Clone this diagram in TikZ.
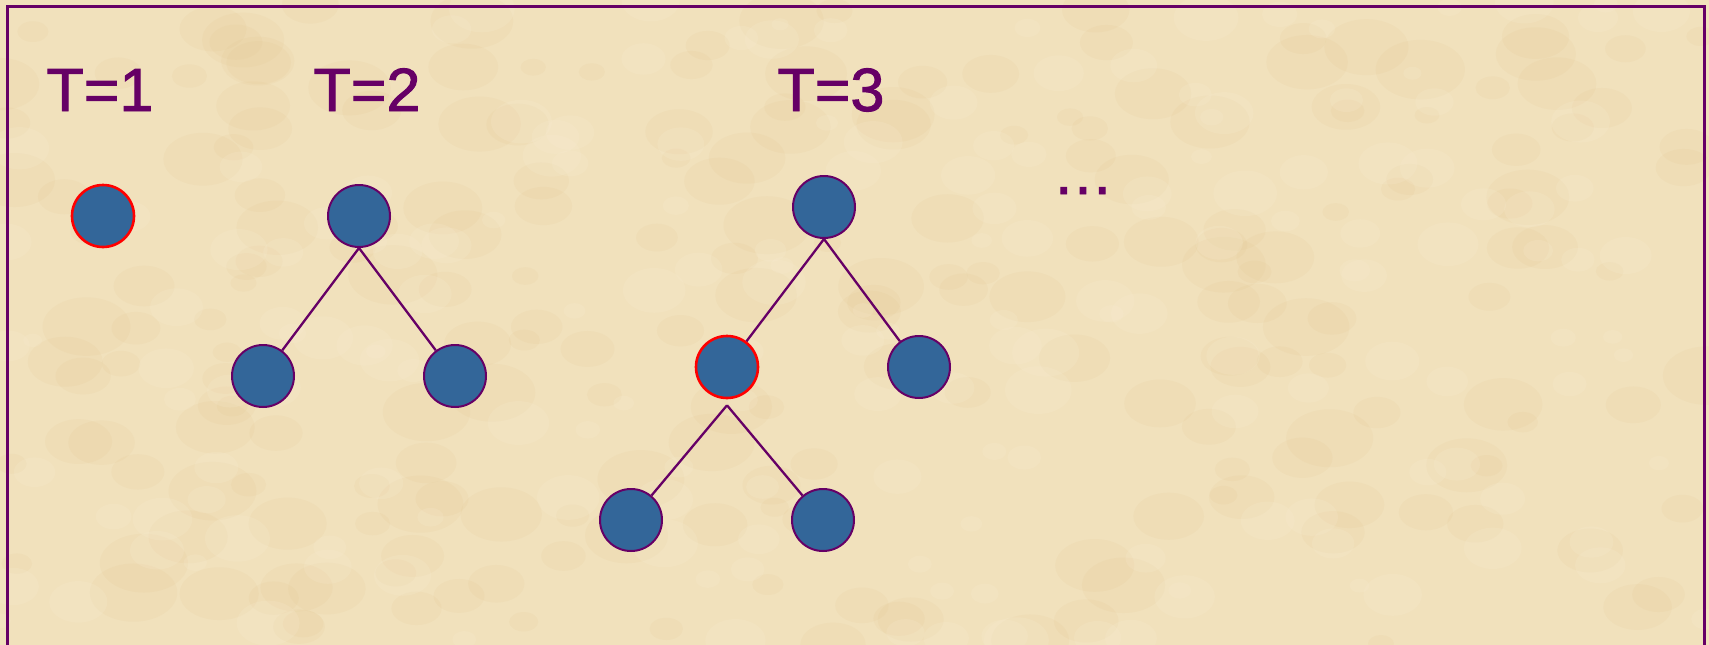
\documentclass[tikz,border=0pt]{standalone}
\usepackage{fontspec}
\setmainfont{Liberation Sans}
\newfontfamily\labelfont[FakeBold=1.6]{Liberation Sans}
\usetikzlibrary{positioning}
\definecolor{parchment}{RGB}{241,225,188}
\definecolor{parchdark}{RGB}{226,196,140}
\definecolor{parchlight}{RGB}{248,236,210}
\definecolor{plum}{RGB}{102,0,102}
\definecolor{steel}{RGB}{51,102,153}

\begin{document}
\begin{tikzpicture}[x=1pt, y=-1pt,
  vertex/.style={circle, fill=steel, draw=plum, line width=2pt, minimum size=62pt, inner sep=0pt},
  pivot/.style={vertex, draw=red, line width=2.6pt},
  edge/.style={draw=plum, line width=2.3pt},
  steplabel/.style={font=\labelfont\fontsize{61}{66}\selectfont, text=plum, anchor=base}]
\useasboundingbox (0,0) rectangle (1709,645);
\fill[parchment] (0,0) rectangle (1709,645);
% mottled paper
\begin{scope}
\clip (0,0) rectangle (1709,645);
\pgfmathsetseed{7}
\foreach \i in {1,...,220}{
  \pgfmathsetmacro{\px}{rnd*1709}
  \pgfmathsetmacro{\py}{rnd*645}
  \pgfmathsetmacro{\pr}{8+rnd*22}
  \fill[parchdark, opacity=0.12] (\px,\py) ellipse ({\pr*1.5} and \pr);
}
\foreach \i in {1,...,180}{
  \pgfmathsetmacro{\px}{rnd*1709}
  \pgfmathsetmacro{\py}{rnd*645}
  \pgfmathsetmacro{\pr}{6+rnd*18}
  \fill[parchlight, opacity=0.2] (\px,\py) ellipse ({\pr*1.4} and \pr);
}
\end{scope}
% frame, open at the bottom edge
\draw[plum, line width=3pt] (7.5,650) -- (7.5,6.5) -- (1704,6.5) -- (1704,650);
\node[steplabel] (lbla) at (100,111) {T=1};
\node[steplabel] (lblb) at (367,111) {T=2};
\node[steplabel] (lblc) at (831,111) {T=3};
\node[steplabel] (more) at (1083,194) {…};
% T=1
\node[pivot] (a) at (103,216) {};
% T=2
\node[vertex] (b) at (359,216) {};
\node[vertex] (bl) at (263,376) {};
\node[vertex] (br) at (455,376) {};
% T=3
\node[vertex] (c) at (824,207) {};
\node[pivot] (cl) at (727,367) {};
\node[vertex] (cr) at (919,367) {};
\node[vertex] (cll) at (631,520) {};
\node[vertex] (clr) at (823,520) {};
\draw[edge] (b.south) -- (bl) (b.south) -- (br);
\draw[edge] (c.south) -- (cl) (c.south) -- (cr);
\draw[edge] ([yshift=-6pt]cl.south) -- (cll) ([yshift=-6pt]cl.south) -- (clr);
\end{tikzpicture}
\end{document}
